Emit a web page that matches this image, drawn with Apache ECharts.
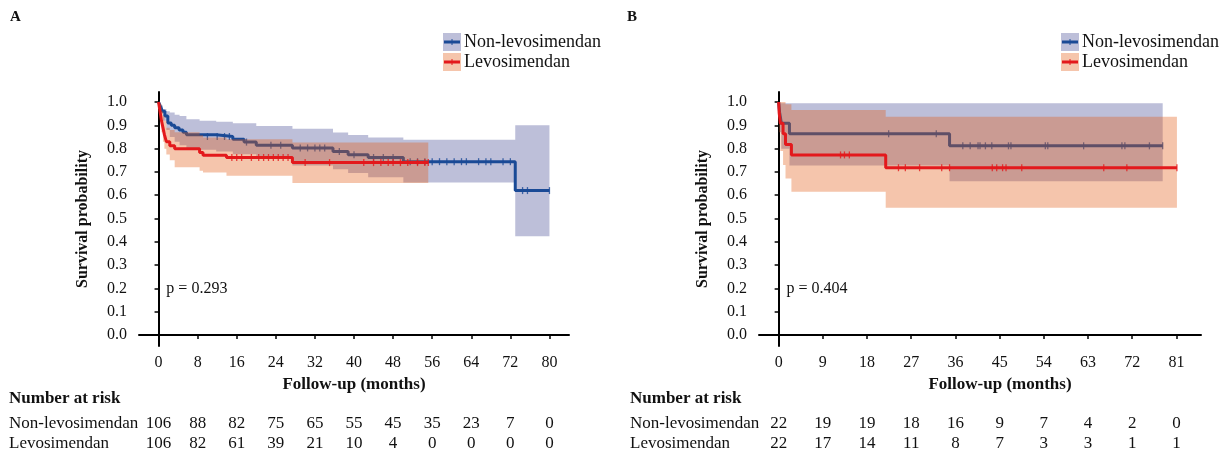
<!DOCTYPE html>
<html>
<head>
<meta charset="utf-8">
<script src="https://cdn.jsdelivr.net/npm/echarts@6/dist/echarts.min.js"></script>
<style>
  html, body { margin: 0; padding: 0; background: #fff; }
  #chart { width: 1221px; height: 452px; }
</style>
</head>
<body>
<div id="chart"></div>
<script>
  const FONT = "'Liberation Serif', 'Times New Roman', serif";
  const groupNames = ['Non-levosimendan', 'Levosimendan'];

  // ---- Panel A ----
  const ticksA = [0, 8, 16, 24, 32, 40, 48, 56, 64, 72, 80];
  const riskNonA = [106, 88, 82, 75, 65, 55, 45, 35, 23, 7, 0];
  const riskLevA = [106, 82, 61, 39, 21, 10, 4, 0, 0, 0, 0];
  const pValueA = 'p = 0.293';

  const kmNonA = [[0, 1.0], [0.4, 0.98], [0.8, 0.96], [1.3, 0.94], [1.9, 0.91], [2.6, 0.9], [3.3, 0.89], [4.2, 0.88], [5.0, 0.87], [5.7, 0.86], [11.8, 0.852], [15.2, 0.84], [17.5, 0.828], [20, 0.815], [27.4, 0.803], [35.7, 0.788], [38.8, 0.774], [42.9, 0.762], [50.1, 0.744], [73, 0.62], [80, 0.62]];
  const hiNonA = [[0, 1.0], [0.5, 0.985], [0.9, 0.97], [1.6, 0.96], [2.3, 0.955], [3.3, 0.945], [4.3, 0.94], [5.7, 0.926], [8.4, 0.92], [11.8, 0.915], [15.2, 0.909], [20, 0.897], [27.4, 0.885], [35.7, 0.869], [38.8, 0.858], [42.9, 0.848], [50.1, 0.838], [73, 0.9], [80, 0.9]];
  const loNonA = [[0, 1.0], [0.5, 0.95], [0.9, 0.92], [1.6, 0.88], [2.3, 0.85], [3.3, 0.83], [4.3, 0.815], [5.7, 0.8], [8.4, 0.795], [11.8, 0.788], [15.2, 0.776], [20, 0.755], [27.4, 0.728], [35.7, 0.712], [38.8, 0.695], [42.9, 0.677], [50.1, 0.655], [73, 0.424], [80, 0.424]];
  const censNonA = [[10, 0.852], [12, 0.852], [13.5, 0.852], [14.5, 0.852], [18, 0.828], [23, 0.815], [25, 0.815], [29, 0.803], [30.5, 0.803], [32, 0.803], [33, 0.803], [34, 0.803], [37, 0.788], [40, 0.774], [44, 0.762], [46, 0.762], [48, 0.762], [51.5, 0.744], [53, 0.744], [54.5, 0.744], [56, 0.744], [57.5, 0.744], [59, 0.744], [60.5, 0.744], [62, 0.744], [63, 0.744], [65.5, 0.744], [67, 0.744], [68, 0.744], [70.5, 0.744], [72, 0.744], [74.5, 0.62], [75.5, 0.62], [80, 0.62]];

  const kmLevA = [[0, 1.0], [0.3, 0.96], [0.6, 0.92], [0.9, 0.89], [1.2, 0.86], [1.6, 0.83], [2.3, 0.812], [3.3, 0.8], [8.4, 0.783], [9.1, 0.772], [13.9, 0.762], [27.4, 0.74], [55.2, 0.74]];
  const hiLevA = [[0, 1.0], [0.3, 0.99], [0.6, 0.96], [0.9, 0.94], [1.2, 0.92], [1.6, 0.89], [2.3, 0.88], [3.3, 0.87], [8.4, 0.857], [9.1, 0.848], [13.9, 0.84], [27.4, 0.826], [55.2, 0.826]];
  const loLevA = [[0, 1.0], [0.3, 0.93], [0.6, 0.87], [0.9, 0.83], [1.2, 0.8], [1.6, 0.775], [2.3, 0.75], [3.3, 0.72], [8.4, 0.705], [9.1, 0.698], [13.9, 0.684], [27.4, 0.652], [55.2, 0.652]];
  const censLevA = [[15, 0.762], [16, 0.762], [17, 0.762], [19, 0.762], [20.5, 0.762], [21.5, 0.762], [22.5, 0.762], [23.5, 0.762], [24.5, 0.762], [25.5, 0.762], [26.5, 0.762], [30, 0.74], [35, 0.74], [42, 0.74], [44, 0.74], [45.5, 0.74], [47, 0.74], [48, 0.74], [49.5, 0.74], [51, 0.74], [53, 0.74], [54.5, 0.74], [55.2, 0.74]];

  // ---- Panel B ----
  const ticksB = [0, 9, 18, 27, 36, 45, 54, 63, 72, 81];
  const riskNonB = [22, 19, 19, 18, 16, 9, 7, 4, 2, 0];
  const riskLevB = [22, 17, 14, 11, 8, 7, 3, 3, 1, 1];
  const pValueB = 'p = 0.404';

  const kmNonB = [[0, 1.0], [0.2, 0.955], [0.55, 0.909], [2.2, 0.864], [34.8, 0.812], [78.2, 0.812]];
  const hiNonB = [[0, 1.0], [0.2, 0.995], [78.2, 0.995]];
  const loNonB = [[0, 1.0], [0.2, 0.87], [0.55, 0.8], [2.2, 0.728], [34.8, 0.66], [78.2, 0.66]];
  const censNonB = [[22.4, 0.864], [32.1, 0.864], [37.5, 0.812], [39.0, 0.812], [40.6, 0.812], [41.0, 0.812], [42.1, 0.812], [43.4, 0.812], [46.8, 0.812], [47.3, 0.812], [54.3, 0.812], [54.8, 0.812], [62.1, 0.812], [69.9, 0.812], [70.5, 0.812], [75.5, 0.812], [78.2, 0.812]];

  const kmLevB = [[0, 1.0], [0.1, 0.955], [0.35, 0.909], [0.9, 0.864], [1.4, 0.818], [2.6, 0.773], [21.8, 0.718], [81.1, 0.718]];
  const hiLevB = [[0, 1.0], [1.4, 0.99], [2.6, 0.966], [21.8, 0.937], [81.1, 0.937]];
  const loLevB = [[0, 1.0], [0.1, 0.87], [0.35, 0.79], [0.9, 0.73], [1.4, 0.672], [2.6, 0.615], [21.8, 0.546], [81.1, 0.546]];
  const censLevB = [[12.6, 0.773], [13.4, 0.773], [14.4, 0.773], [24.4, 0.718], [25.8, 0.718], [28.7, 0.718], [33.2, 0.718], [34.8, 0.718], [43.5, 0.718], [44.4, 0.718], [45.6, 0.718], [46.3, 0.718], [49.5, 0.718], [66.2, 0.718], [70.9, 0.718], [81.1, 0.718]];

  const yTicks = [0, 0.1, 0.2, 0.3, 0.4, 0.5, 0.6, 0.7, 0.8, 0.9, 1.0];

  const BLUE = '#1a4a96';
  const RED = '#e3191c';
  const BLUE_BAND = 'rgba(66,72,146,0.35)';
  const RED_BAND = 'rgba(226,89,18,0.35)';
  const LAVENDER = '#bdbfd9';
  const SALMON = '#f5c5ac';

  const chart = echarts.init(document.getElementById('chart'), null, { renderer: 'canvas' });

  function band(idx, lo, hi, color, z) {
    return {
      type: 'custom',
      xAxisIndex: idx,
      yAxisIndex: idx,
      z: z,
      silent: true,
      clip: true,
      data: [[hi[0][0], hi[0][1]]],
      renderItem: function (params, api) {
        const pts = [];
        hi.forEach((p, i) => {
          const nx = i < hi.length - 1 ? hi[i + 1][0] : p[0];
          pts.push(api.coord([p[0], p[1]]), api.coord([nx, p[1]]));
        });
        for (let i = lo.length - 1; i >= 0; i--) {
          const nx = i < lo.length - 1 ? lo[i + 1][0] : lo[i][0];
          pts.push(api.coord([nx, lo[i][1]]), api.coord([lo[i][0], lo[i][1]]));
        }
        return { type: 'polygon', shape: { points: pts }, style: { fill: color } };
      },
    };
  }

  function curve(idx, data, color, z) {
    return {
      type: 'line',
      xAxisIndex: idx,
      yAxisIndex: idx,
      z: z,
      step: 'end',
      data: data,
      showSymbol: false,
      silent: true,
      lineStyle: { width: 3, color: color },
    };
  }

  function censor(idx, data, color, z) {
    return {
      type: 'scatter',
      xAxisIndex: idx,
      yAxisIndex: idx,
      z: z,
      data: data,
      silent: true,
      symbol: 'rect',
      symbolSize: [1.3, 7],
      itemStyle: { color: color },
    };
  }

  function xAxis(gi, max, ticks, namePad) {
    return {
      type: 'value',
      gridIndex: gi,
      min: -4,
      max: max,
      name: 'Follow-up (months)',
      nameLocation: 'middle',
      nameGap: 29,
      nameTextStyle: { fontFamily: FONT, fontWeight: 'bold', fontSize: 17, color: '#111', padding: namePad },
      axisLine: { lineStyle: { color: '#000', width: 2 } },
      axisTick: { customValues: ticks, length: 4, lineStyle: { color: '#000', width: 1.5 } },
      axisLabel: { customValues: ticks, fontFamily: FONT, fontSize: 16, color: '#111', margin: 9 },
      splitLine: { show: false },
    };
  }

  function yAxis(gi) {
    return {
      type: 'value',
      gridIndex: gi,
      min: -0.047,
      max: 1.043,
      name: 'Survival probability',
      nameLocation: 'middle',
      nameGap: 48,
      nameTextStyle: { fontFamily: FONT, fontWeight: 'bold', fontSize: 16, color: '#111' },
      axisLine: { lineStyle: { color: '#000', width: 2 } },
      axisTick: { customValues: yTicks, length: 4, lineStyle: { color: '#000', width: 1.5 } },
      axisLabel: {
        customValues: yTicks,
        fontFamily: FONT,
        fontSize: 16,
        color: '#111',
        margin: 12,
        formatter: (v) => v.toFixed(1),
      },
      splitLine: { show: false },
    };
  }

  // drawing order: blue band, blue curve, red band (tints the blue curve), red curve
  const option = {
    animation: false,
    backgroundColor: '#fff',
    grid: [
      { left: 139, top: 92, width: 430, height: 254 },
      { left: 759, top: 92, width: 442, height: 254 },
    ],
    xAxis: [xAxis(0, 84, ticksA, [0, 0, 0, 0]), xAxis(1, 86, ticksB, [0, 0, 0, 40])],
    yAxis: [yAxis(0), yAxis(1)],
    series: [
      band(0, loNonA, hiNonA, BLUE_BAND, 1),
      curve(0, kmNonA, BLUE, 2),
      censor(0, censNonA, BLUE, 2),
      band(0, loLevA, hiLevA, RED_BAND, 3),
      curve(0, kmLevA, RED, 4),
      censor(0, censLevA, RED, 4),
      band(1, loNonB, hiNonB, BLUE_BAND, 1),
      curve(1, kmNonB, BLUE, 2),
      censor(1, censNonB, BLUE, 2),
      band(1, loLevB, hiLevB, RED_BAND, 3),
      curve(1, kmLevB, RED, 4),
      censor(1, censLevB, RED, 4),
    ],
  };
  chart.setOption(option);

  // annotations placed through the axes' own scales
  const txt = (x, y, text, extra) => ({
    type: 'text',
    x: x,
    y: y,
    silent: true,
    style: Object.assign({ text: text, fontFamily: FONT, fontSize: 17, fill: '#111', textVerticalAlign: 'middle' }, extra || {}),
  });

  function legend(x, y) {
    const items = [];
    [[LAVENDER, BLUE], [SALMON, RED]].forEach((c, i) => {
      const top = y + i * 20;
      items.push({ type: 'rect', shape: { x: x, y: top, width: 18, height: 18 }, style: { fill: c[0] }, silent: true });
      items.push({ type: 'line', shape: { x1: x + 1, y1: top + 9, x2: x + 17, y2: top + 9 }, style: { stroke: c[1], lineWidth: 3 }, silent: true });
      items.push({ type: 'line', shape: { x1: x + 9, y1: top + 6, x2: x + 9, y2: top + 12 }, style: { stroke: c[1], lineWidth: 1 }, silent: true });
      items.push(txt(x + 21, top + 9.5, groupNames[i], { fontSize: 18 }));
    });
    return items;
  }

  function riskTable(idx, ticks, rowNon, rowLev, left) {
    const items = [];
    items.push(txt(left, 399, 'Number at risk', { fontWeight: 'bold' }));
    items.push(txt(left, 424, groupNames[0]));
    items.push(txt(left, 444, groupNames[1]));
    ticks.forEach((t, i) => {
      const px = chart.convertToPixel({ xAxisIndex: idx }, t);
      items.push(txt(px, 424, String(rowNon[i]), { textAlign: 'center' }));
      items.push(txt(px, 444, String(rowLev[i]), { textAlign: 'center' }));
    });
    return items;
  }

  const pA = chart.convertToPixel({ xAxisIndex: 0, yAxisIndex: 0 }, [1.6, 0.2]);
  const pB = chart.convertToPixel({ xAxisIndex: 1, yAxisIndex: 1 }, [1.6, 0.2]);

  const graphics = []
    .concat([txt(10, 17, 'A', { fontWeight: 'bold', fontSize: 15 }), txt(627, 17, 'B', { fontWeight: 'bold', fontSize: 15 })])
    .concat(legend(443, 33), legend(1061, 33))
    .concat([txt(pA[0], pA[1], pValueA, { fontSize: 16 }), txt(pB[0], pB[1], pValueB, { fontSize: 16 })])
    .concat(riskTable(0, ticksA, riskNonA, riskLevA, 9), riskTable(1, ticksB, riskNonB, riskLevB, 630));

  chart.setOption({ graphic: graphics });
</script>
</body>
</html>
